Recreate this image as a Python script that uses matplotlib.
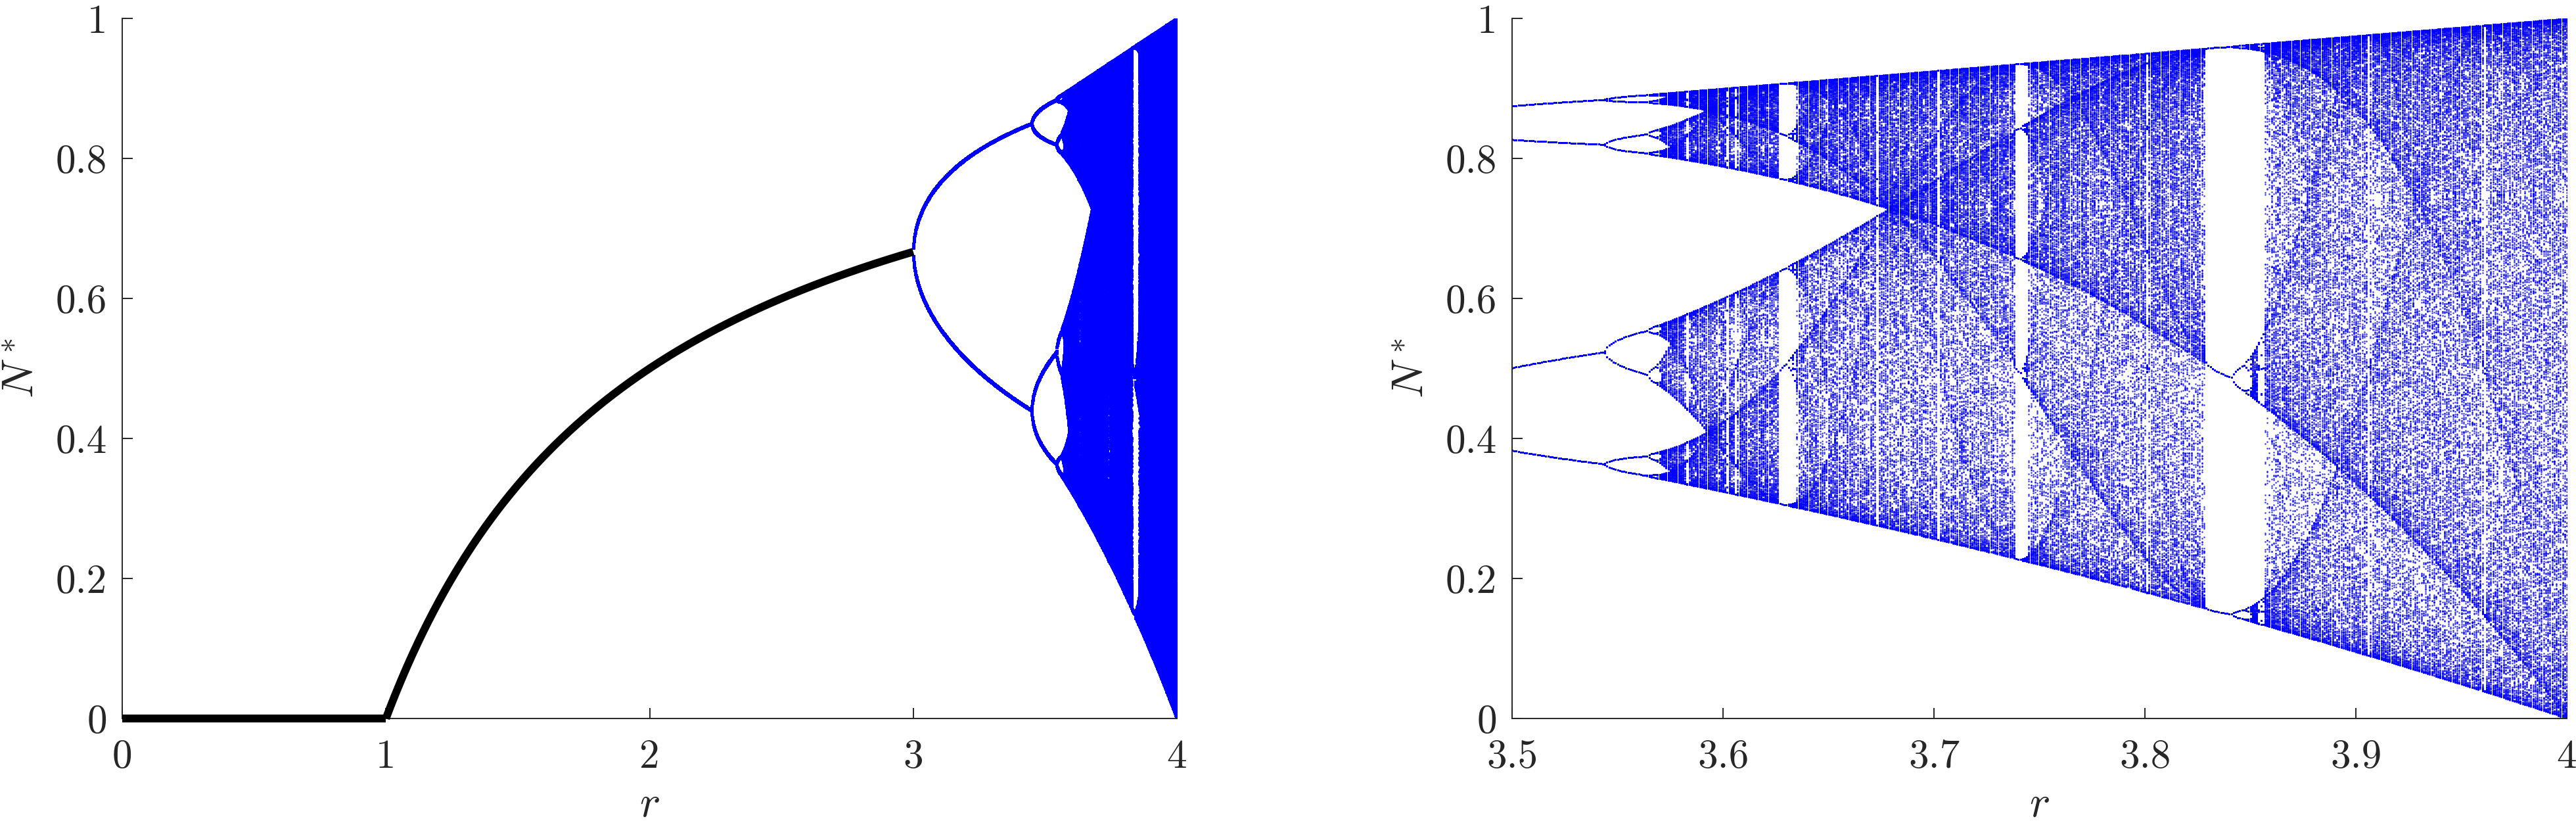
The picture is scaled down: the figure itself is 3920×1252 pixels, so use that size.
import numpy as np
import matplotlib
matplotlib.use("Agg")
import matplotlib.pyplot as plt

plt.rcParams['font.family'] = 'serif'
plt.rcParams['font.serif'] = ['cmr10']
plt.rcParams['mathtext.fontset'] = 'cm'
plt.rcParams['axes.formatter.use_mathtext'] = True

# ---- data ----
# stable equilibrium branch (black): N* = 0 for r<1, N* = 1 - 1/r for 1<=r<=3
r_zero = np.array([0.0, 1.0])
n_zero = np.array([0.0, 0.0])
r_eq = np.linspace(1.0, 3.0, 400)
n_eq = 1.0 - 1.0 / r_eq

# logistic-map attractor (blue): N_{t+1} = r N_t (1 - N_t)
r_start, r_end, r_step = 3.0, 4.0, 0.001
n_transient = 1000
n_keep = 500
n_init = 0.2

r_vals = np.arange(r_start, r_end + r_step / 2, r_step)
N = np.full_like(r_vals, n_init)
for _ in range(n_transient):
    N = r_vals * N * (1 - N)
att_r, att_n = [], []
for _ in range(n_keep):
    N = r_vals * N * (1 - N)
    att_r.append(r_vals.copy())
    att_n.append(N.copy())
att_r = np.concatenate(att_r)
att_n = np.concatenate(att_n)

left_xticks = [0, 1, 2, 3, 4]
left_xlabels = ['0', '1', '2', '3', '4']
right_xticks = [3.5, 3.6, 3.7, 3.8, 3.9, 4.0]
right_xlabels = ['3.5', '3.6', '3.7', '3.8', '3.9', '4']
yticks = [0, 0.2, 0.4, 0.6, 0.8, 1.0]
ylabels = ['0', '0.2', '0.4', '0.6', '0.8', '1']

# ---- figure ----
fig = plt.figure(figsize=(19.6, 6.26), dpi=200)
ax1 = fig.add_axes([0.04745, 0.1270, 0.40944, 0.85064])
ax2 = fig.add_axes([0.58699, 0.1270, 0.40944, 0.85064])

spine_c = '#262626'
fs = 22
lfs = 24

for ax in (ax1, ax2):
    for s in ('top', 'right'):
        ax.spines[s].set_visible(False)
    for s in ('left', 'bottom'):
        ax.spines[s].set_color(spine_c)
        ax.spines[s].set_linewidth(0.7)
    ax.tick_params(direction='in', length=5.8, width=0.7, color=spine_c,
                   labelcolor=spine_c, labelsize=fs)
    ax.tick_params(axis='x', pad=11.5)
    ax.tick_params(axis='y', pad=8.3)
    ax.set_ylim(0, 1)
    ax.set_yticks(yticks)
    ax.set_yticklabels(ylabels)
    ax.set_xlabel(r'$r$', fontsize=lfs, color=spine_c)
    ax.set_ylabel(r'$N^*$', fontsize=lfs, color=spine_c)
    ax.xaxis.label.set_verticalalignment('baseline')
    ax.yaxis.label.set_verticalalignment('baseline')
    ax.xaxis.set_label_coords(0.5, -0.140)
    ax.yaxis.set_label_coords(-0.084, 0.5)

# left panel
m1 = att_r >= 3.0
ax1.plot(att_r[m1], att_n[m1], linestyle='none', marker='o', ms=1.7,
         mew=0, color='#0000ff', rasterized=True)
ax1.plot(r_zero, n_zero, color='black', lw=4.3, clip_on=False,
         solid_capstyle='butt', zorder=5)
ax1.plot(r_eq, n_eq, color='black', lw=4.3, clip_on=False,
         solid_capstyle='butt', zorder=5)
ax1.set_xlim(0, 4)
ax1.set_xticks(left_xticks)
ax1.set_xticklabels(left_xlabels)

# right panel
m2 = att_r >= 3.5 - 1e-9
ax2.plot(att_r[m2], att_n[m2], linestyle='none', marker='o', ms=0.9,
         mew=0, color='#0000ff', alpha=0.8, rasterized=True)
ax2.set_xlim(3.5, 4.0)
ax2.set_xticks(right_xticks)
ax2.set_xticklabels(right_xlabels)

fig.savefig('out.png', dpi=200, facecolor='white')
